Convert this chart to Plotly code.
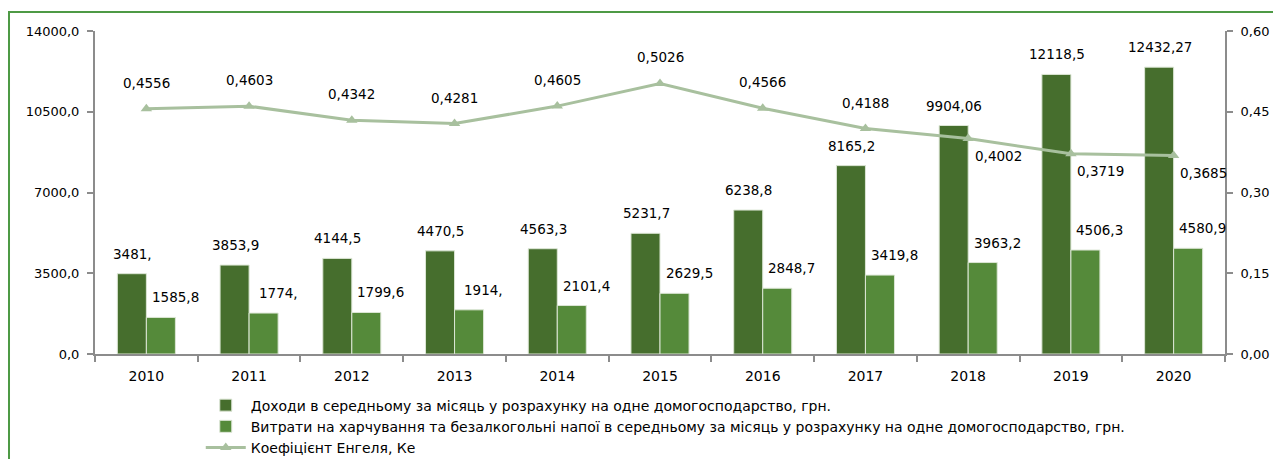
import plotly.graph_objects as go

years = ["2010", "2011", "2012", "2013", "2014", "2015", "2016", "2017", "2018", "2019", "2020"]
income = [3481.0, 3853.9, 4144.5, 4470.5, 4563.3, 5231.7, 6238.8, 8165.2, 9904.06, 12118.5, 12432.27]
income_labels = ["3481,", "3853,9", "4144,5", "4470,5", "4563,3", "5231,7", "6238,8", "8165,2", "9904,06", "12118,5", "12432,27"]
food = [1585.8, 1774.0, 1799.6, 1914.0, 2101.4, 2629.5, 2848.7, 3419.8, 3963.2, 4506.3, 4580.9]
food_labels = ["1585,8", "1774,", "1799,6", "1914,", "2101,4", "2629,5", "2848,7", "3419,8", "3963,2", "4506,3", "4580,9"]
engel = [0.4556, 0.4603, 0.4342, 0.4281, 0.4605, 0.5026, 0.4566, 0.4188, 0.4002, 0.3719, 0.3685]
engel_labels = ["0,4556", "0,4603", "0,4342", "0,4281", "0,4605", "0,5026", "0,4566", "0,4188", "0,4002", "0,3719", "0,3685"]

name_income = "Доходи в середньому за місяць у розрахунку на одне домогосподарство, грн."
name_food = "Витрати на харчування та безалкогольні напої в середньому за місяць у розрахунку на одне домогосподарство, грн."
name_engel = "Коефіцієнт Енгеля, Ке"

DARK = "#466E2D"
LIGHT = "#558A3A"
LINE = "#A8C09E"
AXIS = "#8C8C8C"
FONT = "DejaVu Sans"

fig = go.Figure()
fig.add_trace(go.Bar(x=years, y=income, name=name_income, marker=dict(color=DARK, line=dict(color="#DCE6D5", width=1))))
fig.add_trace(go.Bar(x=years, y=food, name=name_food, marker=dict(color=LIGHT, line=dict(color="#DCE6D5", width=1))))
fig.add_trace(go.Scatter(x=years, y=engel, name=name_engel, yaxis="y2", mode="lines+markers",
                         line=dict(color=LINE, width=3),
                         marker=dict(symbol="triangle-up", size=10, color=LINE)))

annotations = []
for i in range(len(years)):
    annotations.append(dict(x=i, y=income[i], xref="x", yref="y", text=income_labels[i], showarrow=False,
                            xshift=-14, yshift=20, font=dict(family=FONT, size=13.5, color="black")))
    annotations.append(dict(x=i, y=food[i], xref="x", yref="y", text=food_labels[i], showarrow=False,
                            xshift=29, yshift=20, font=dict(family=FONT, size=13.5, color="black")))
    below = i >= 8
    annotations.append(dict(x=i, y=engel[i], xref="x", yref="y2", text=engel_labels[i], showarrow=False,
                            xshift=(30 if below else 0), yshift=(-17 if below else 26),
                            font=dict(family=FONT, size=13.5, color="black")))

fig.update_layout(
    width=1273, height=451,
    margin=dict(l=87, r=56, t=23, b=105, autoexpand=False),
    paper_bgcolor="white", plot_bgcolor="white",
    separators=", ",
    font=dict(family=FONT, size=13, color="black"),
    barmode="group", bargap=0.435, bargroupgap=0,
    showlegend=True,
    legend=dict(x=0.0936, xanchor="left", y=-0.11, yanchor="top", orientation="v",
                font=dict(family=FONT, size=14, color="black"), bgcolor="rgba(0,0,0,0)",
                tracegroupgap=0, itemwidth=40),
    xaxis=dict(type="category", range=[-0.5, 10.5], autorange=False, showline=True, linecolor=AXIS, linewidth=2,
               ticks="outside", tickson="boundaries", ticklen=6, tickcolor=AXIS, tickwidth=2, showgrid=False,
               tickangle=0, ticklabelstandoff=8, automargin=False, tickfont=dict(family=FONT, size=14)),
    yaxis=dict(range=[0, 14000], dtick=3500, tickformat=".1f", showline=True, linecolor=AXIS, linewidth=2,
               ticks="outside", ticklen=6, tickcolor=AXIS, tickwidth=2, showgrid=False, zeroline=False,
               ticklabelstandoff=5, automargin=False, tickfont=dict(family=FONT, size=13)),
    yaxis2=dict(range=[0, 0.6], dtick=0.15, tickformat=".2f", overlaying="y", side="right", showline=True,
                linecolor=AXIS, linewidth=2, ticks="outside", ticklen=6, tickcolor=AXIS, tickwidth=2,
                showgrid=False, zeroline=False, ticklabelstandoff=5, automargin=False,
                tickfont=dict(family=FONT, size=13)),
    annotations=annotations,
    shapes=[dict(type="rect", xref="paper", yref="paper", x0=-0.0761, x1=1.06, y0=-0.40, y1=1.0588,
                 line=dict(color="#4E9A45", width=2), fillcolor="rgba(0,0,0,0)", layer="below")],
)

fig.write_html("out.html")
